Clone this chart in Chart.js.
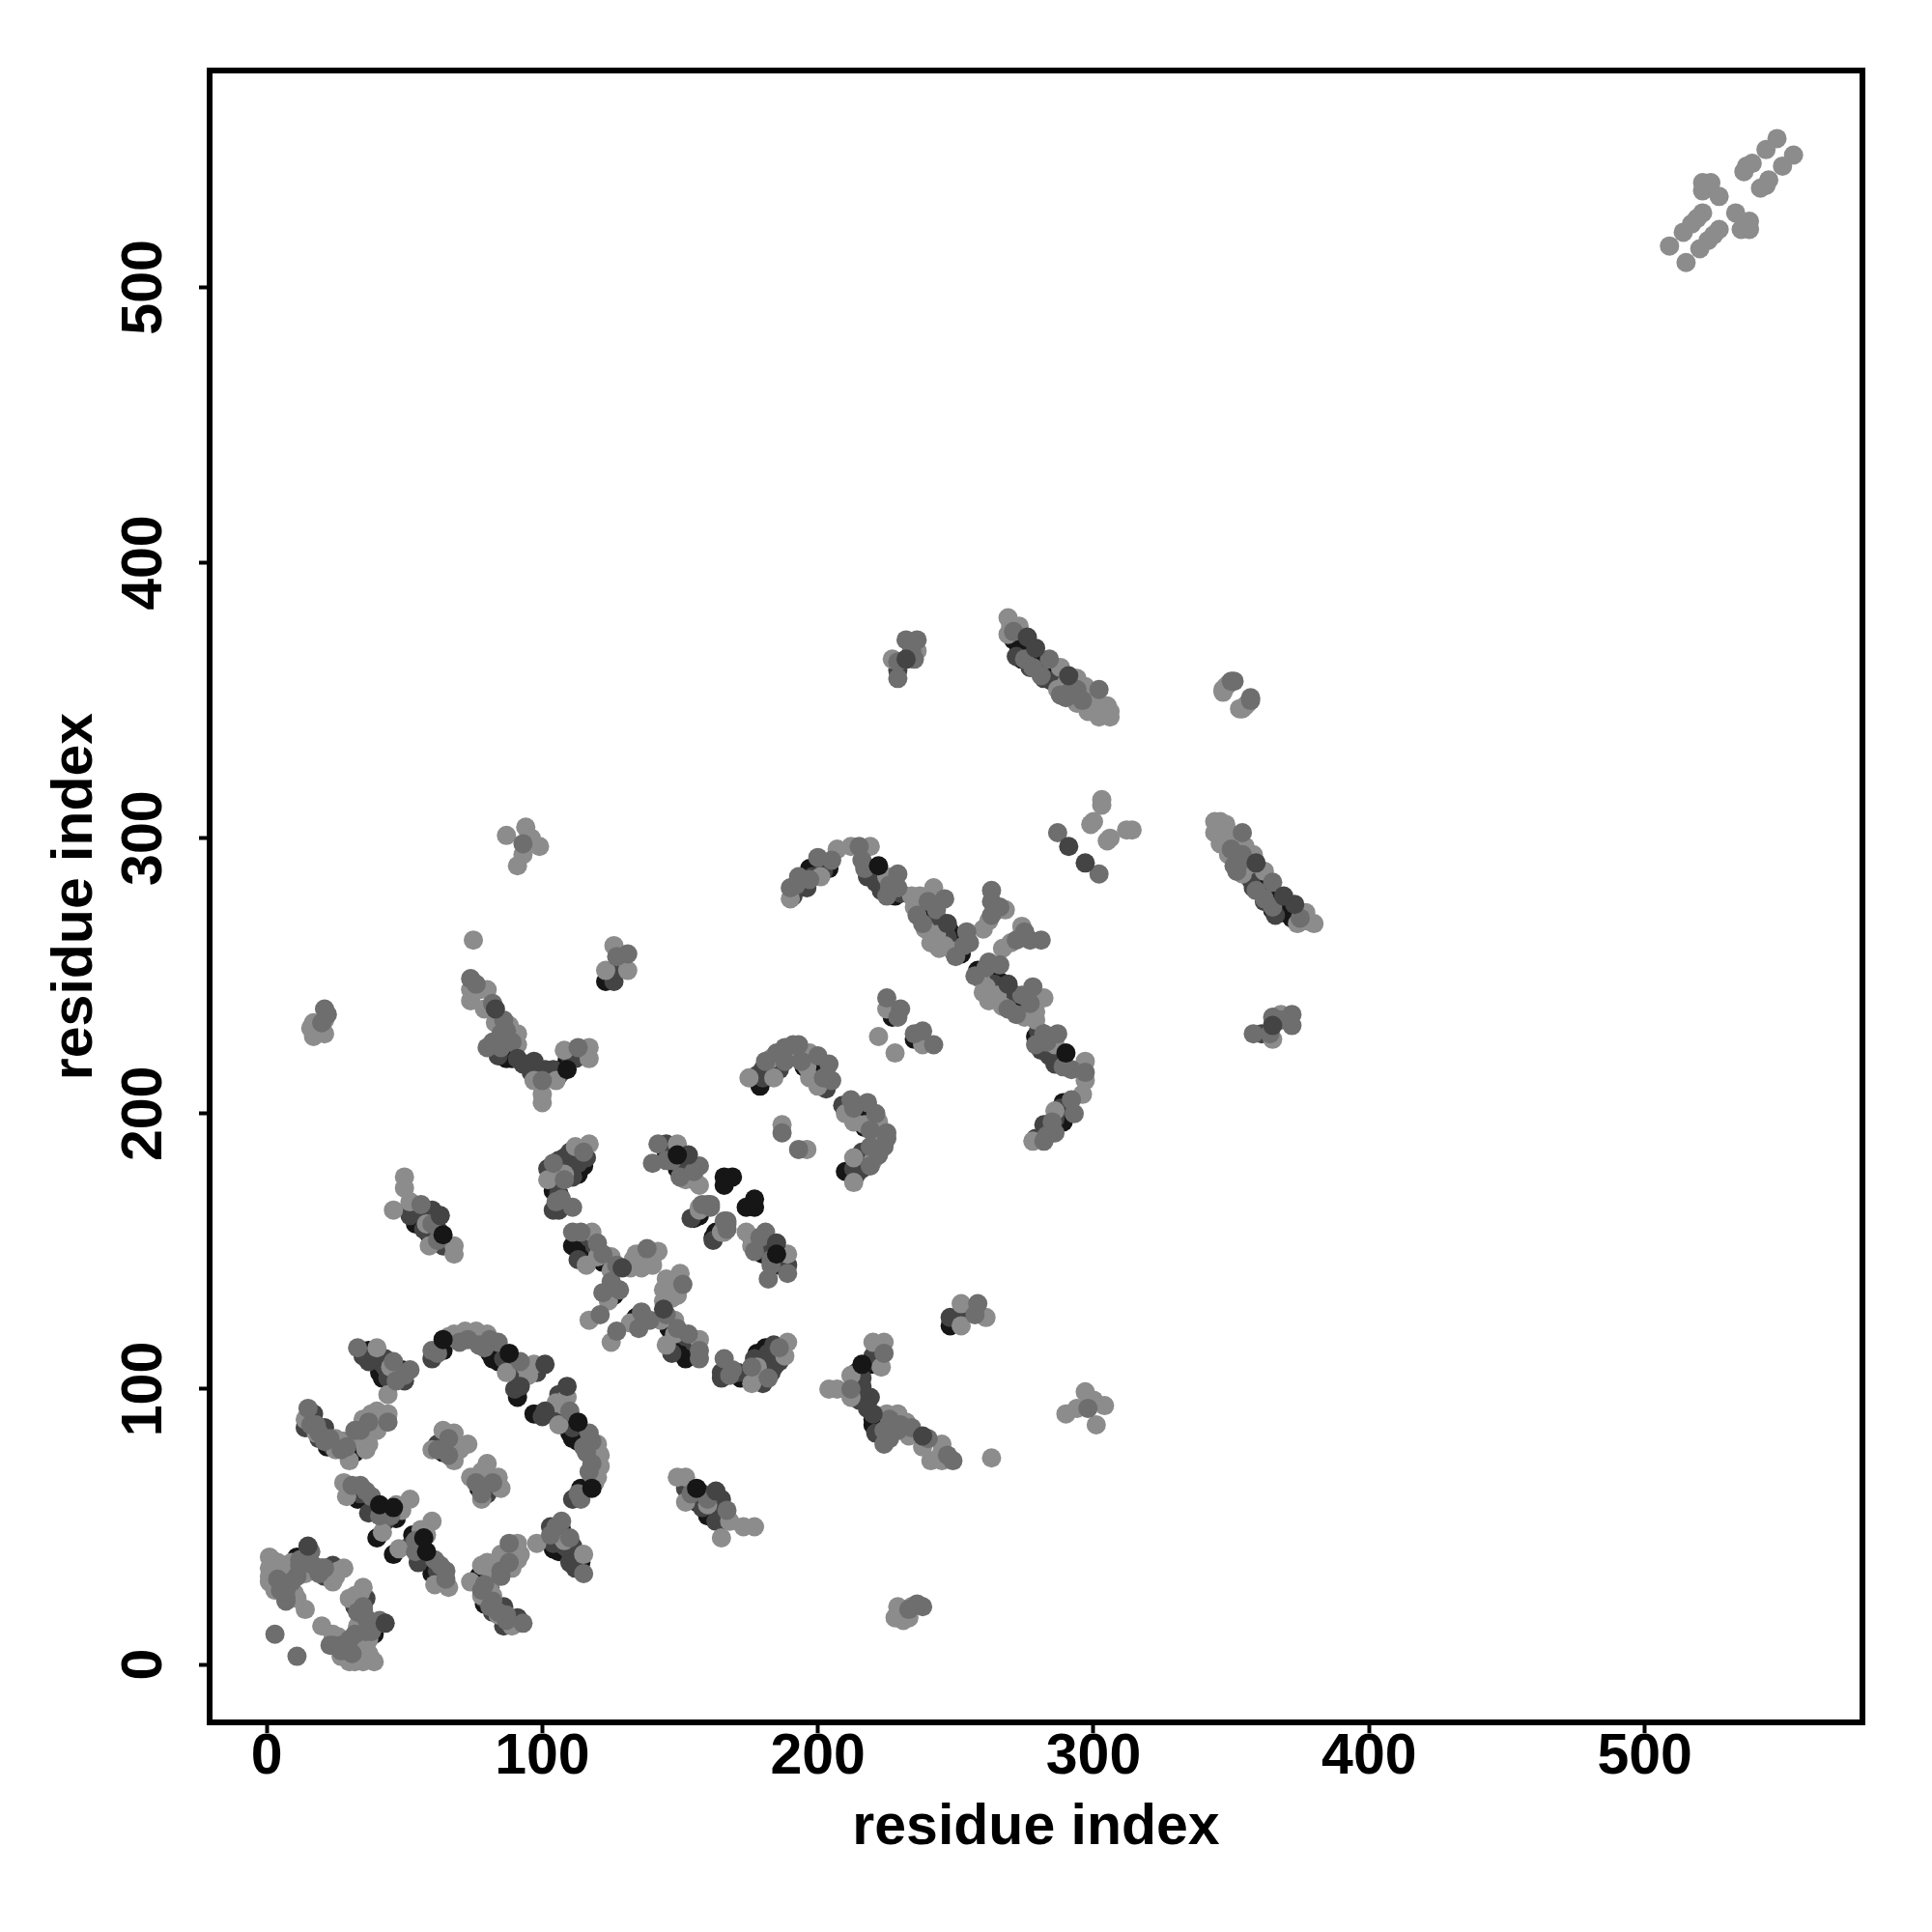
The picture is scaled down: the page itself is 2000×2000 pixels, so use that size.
<!DOCTYPE html>
<html>
<head>
<meta charset="utf-8">
<title>residue contact map</title>
<script src="https://cdn.jsdelivr.net/npm/chart.js@4"></script>
<style>
  html, body { margin: 0; padding: 0; background: #fff; }
  canvas { display: block; }
</style>
</head>
<body>
<canvas id="contactMap" width="2000" height="2000"></canvas>
<script>
// contact pairs [i, j], one side of the diagonal only.
// the map is symmetric so each pair is plotted as (i, j) and (j, i)
const blackPairs = [
  [10,35],[11,39],[22,32],[5,34],[11,34],[33,60],[47,53],[40,46],[64,77],[36,60],[39,56],[43,55],
  [64,114],[81,113],[84,110],[91,105],[91,97],[82,111],[85,113],[37,114],[41,106],[45,103],[49,107],[42,104],[48,104],
  [22,79],[31,81],[32,77],[37,85],[39,88],[33,79],[34,83],[87,220],[87,223],[85,221],[89,220],[109,219],[123,248],
  [55,162],[59,156],[52,166],[54,160],[61,160],[115,181],[111,180],[104,172],[105,178],[108,181],[112,183],[106,175],[113,178],
  [145,186],[149,180],[151,178],[155,176],[166,174],[156,163],[157,163],[155,162],
  [111,152],[114,151],[126,134],[113,154],[116,153],[115,148],[117,150],[122,146],
  [197,289],[204,289],[228,279],[239,274],[241,271],[252,258],[244,264],[221,287],[250,262],[248,266],
  [182,216],[198,217],[195,217],[200,214],[201,216],[179,210],[227,235],[226,238],
  [271,372],[273,369],[278,366],[274,365],[276,367],[279,364],[281,362],[284,359]
];
const darkPairs = [
  [6,32],[24,36],[20,35],[7,31],[21,32],[8,33],[22,35],[5,31],[37,55],[64,81],[34,62],[43,52],[62,80],[65,79],
  [60,111],[98,106],[86,111],[89,108],[93,104],[90,100],[37,110],[41,110],[50,103],[35,112],[39,112],[43,108],[47,105],[44,104],[43,111],
  [17,91],[14,86],[21,86],[19,82],[24,79],[28,81],[34,81],[84,221],[97,219],[101,216],[93,218],[96,215],[99,214],[103,213],[106,214],[110,221],
  [104,216],[112,220],[126,251],[126,248],[60,165],[64,152],[53,165],[57,163],[52,163],[57,158],[62,158],
  [116,184],[108,184],[104,180],[111,177],[104,165],[106,165],[106,183],[110,186],[113,182],[102,180],[103,177],[106,171],
  [153,179],[145,189],[147,187],[151,182],[154,162],[119,152],[117,155],[113,147],
  [196,282],[218,286],[221,284],[242,268],[191,279],[194,283],[198,286],[202,288],[244,270],[247,264],[223,281],[230,280],
  [180,216],[180,213],[187,220],[203,209],[178,214],[186,216],[185,219],
  [282,358],[229,361],[272,366],[277,362],[285,357],[287,358]
];
const midPairs = [
  [3,11],[7,29],[14,39],[11,32],[7,23],[21,35],[19,33],[17,36],[7,24],[7,27],[4,31],[5,27],[9,30],[12,36],[16,41],[5,30],[12,38],
  [31,65],[34,65],[38,61],[41,54],[36,63],[45,54],[62,78],[66,76],[66,82],
  [60,114],[73,118],[81,118],[84,117],[92,110],[70,117],[77,116],[79,115],[62,113],[33,115],[47,103],[50,105],
  [15,93],[21,81],[32,85],[44,88],[16,87],[18,87],[19,84],[23,82],[29,79],[27,78],[34,85],[37,88],
  [21,238],[22,236],[20,233],[74,249],[86,234],[80,224],[87,230],[100,212],[113,224],[76,247],[82,240],[82,226],[85,224],[85,229],[89,226],
  [56,167],[60,160],[62,154],[107,169],[111,166],[104,182],[115,186],[108,176],[105,168],
  [142,189],[140,182],[157,181],[161,167],[161,166],[160,167],[150,177],[145,183],[155,179],[147,183],[158,167],
  [111,157],[114,157],[128,136],[138,151],[121,127],[120,153],[122,149],[127,145],[126,137],[125,139],[122,135],[187,193],
  [190,282],[193,286],[200,293],[205,292],[215,297],[216,292],[229,282],[225,279],[246,278],[192,283],[197,285],[217,289],[226,283],[226,281],
  [236,272],[238,269],[240,277],[243,274],[250,257],[255,262],[253,261],[263,281],[263,277],[263,272],[266,275],
  [188,224],[191,225],[193,225],[200,221],[204,218],[205,212],[181,219],[185,222],[188,219],[194,219],[202,213],
  [225,242],[230,238],[229,235],[275,365],[278,362],[290,351],[294,354],[302,354],[271,375],[281,359],[288,352],[292,354],[296,350],
  [232,372],[236,372],[235,365],[229,358],[229,364],[234,368],[357,351],[287,302],[93,298]
];
const lightPairs = [
  [1,39],[1,35],[1,30],[3,27],[10,26],[14,20],[25,32],[28,35],[24,30],[11,24],[3,28],[1,32],[2,38],[6,35],[9,37],[14,33],[2,33],[4,37],[26,34],[23,33],
  [28,66],[29,61],[52,60],[49,56],[42,48],[47,58],[64,85],[68,84],[60,78],[68,74],[73,80],[68,80],[70,78],
  [68,120],[72,121],[76,121],[80,120],[87,106],[97,109],[66,119],[69,118],[74,120],[78,119],[94,108],[95,105],[40,115],[44,98],[45,108],
  [14,89],[18,84],[25,82],[27,81],[25,78],[30,74],[35,89],[40,92],[44,91],[40,85],[37,80],[36,78],[33,82],[42,88],[38,91],
  [17,233],[16,231],[17,228],[21,229],[21,234],[75,263],
  [74,241],[77,245],[80,245],[74,245],[79,238],[83,226],[91,229],[91,225],[97,212],[100,204],[100,207],[105,212],[108,223],[117,220],[117,224],[83,233],[88,232],
  [126,261],[131,252],[123,252],[50,177],[50,173],[46,165],[52,168],[59,152],[68,152],[68,149],[58,160],
  [117,189],[112,188],[102,176],[108,178],[149,189],[157,174],[157,165],[157,166],[152,176],
  [118,157],[116,145],[120,148],[125,148],[125,143],[124,132],[117,125],[135,146],[142,150],[136,144],[132,144],[133,147],[134,149],[137,147],[140,145],[187,196],
  [190,278],[207,296],[212,297],[219,297],[225,286],[234,279],[235,275],[242,282],[243,265],[246,261],[249,259],[201,286],[237,279],[239,267],[241,262],[244,260],
  [268,274],[265,274],[262,270],[260,267],[175,213],[184,213],[183,220],[192,222],[196,217],[197,222],[197,213],[200,210],
  [225,238],[222,228],[269,380],[270,377],[269,374],[273,377],[288,362],[287,354],[294,358],[297,355],[294,349],[298,346],[290,356],[293,351],[299,351],[300,346],[303,346],
  [302,349],[302,344],[305,348],[306,346],[306,344],[236,368],[227,365],[347,354],[349,356],[353,347],[355,348],
  [303,314],[303,312],[300,306],[299,305],[87,301],[94,304],[96,300],[99,297],[93,294],[91,290],
  [548,554],[544,550],[537,544],[536,542],[539,545],[521,538],[524,538],[521,535],[527,533],[521,527],[517,523],[519,525],[514,520],[509,515]
];
// pairs whose disc sits over its neighbours in the picture
const midFrontPairs = [
  [52,107],[229,287],[254,266],[284,365],[46,110],[127,257],[131,258],[350,357]
];
const darkFrontPairs = [
  [15,43],[92,101],[101,109],[83,238],[63,163],[91,220],[129,144],[153,185],[247,269],[276,373],[279,369],[291,359],[291,297],[232,365]
];
const blackFrontPairs = [
  [64,118],[88,113],[222,290],[64,156],[109,216],[149,185],[166,177],[169,177],[41,58],[46,57]
];
const axisTicks = [0, 100, 200, 300, 400, 500];
const axisTitle = "residue index";

const axisFont = { family: "'Liberation Sans'", size: 59, weight: "bold" };

const bothSides = (pairs) =>
  pairs.flatMap(([i, j]) => [{ x: i, y: j }, { x: j, y: i }]);

const contactSet = (label, pairs, color) => ({
  label: label,
  data: bothSides(pairs),
  backgroundColor: color,
  borderWidth: 0,
  pointRadius: 10,
  pointHoverRadius: 10,
});

// black frame all round the plot area
const framePlugin = {
  id: "frame",
  afterDraw(chart) {
    const { ctx, chartArea: a } = chart;
    ctx.save();
    ctx.strokeStyle = "#000";
    ctx.lineWidth = 6;
    ctx.strokeRect(a.left, a.top, a.right - a.left, a.bottom - a.top);
    ctx.restore();
  },
};

const baseAxis = {
  type: "linear",
  afterBuildTicks: (scale) => {
    scale.ticks = axisTicks.map((v) => ({ value: v }));
  },
  border: { display: false },
  grid: {
    drawOnChartArea: false,
    drawTicks: true,
    tickLength: 11,
    tickWidth: 4,
    tickColor: "#000",
  },
};

// chart.js paints the first dataset last, so this list runs front to back
new Chart(document.getElementById("contactMap"), {
  type: "scatter",
  data: {
    datasets: [
      contactSet("black front", blackFrontPairs, "#161616"),
      contactSet("dark front", darkFrontPairs, "#444444"),
      contactSet("mid front", midFrontPairs, "#6e6e6e"),
      contactSet("mid", midPairs, "#6e6e6e"),
      contactSet("light", lightPairs, "#8c8c8c"),
      contactSet("dark", darkPairs, "#444444"),
      contactSet("black", blackPairs, "#161616"),
    ],
  },
  options: {
    responsive: false,
    animation: false,
    layout: { padding: { top: 73, right: 72, left: 0, bottom: 0 } },
    plugins: { legend: { display: false }, tooltip: { enabled: false } },
    scales: {
      x: {
        ...baseAxis,
        min: -20.7,
        max: 579,
        afterFit: (scale) => { scale.height = 217; },
        ticks: { color: "#000", font: axisFont, padding: -10, autoSkip: false, maxRotation: 0 },
        title: { display: true, text: axisTitle, color: "#000", font: axisFont, padding: { top: 0, bottom: 72 } },
      },
      y: {
        ...baseAxis,
        min: -21,
        max: 578.7,
        afterFit: (scale) => { scale.width = 217; },
        ticks: {
          color: "#000",
          font: axisFont,
          padding: 6,
          autoSkip: false,
          minRotation: 90,
          maxRotation: 90,
          crossAlign: "center",
        },
        title: { display: true, text: axisTitle, color: "#000", font: axisFont, padding: { top: 43, bottom: 0 } },
      },
    },
  },
  plugins: [framePlugin],
});
</script>
</body>
</html>
